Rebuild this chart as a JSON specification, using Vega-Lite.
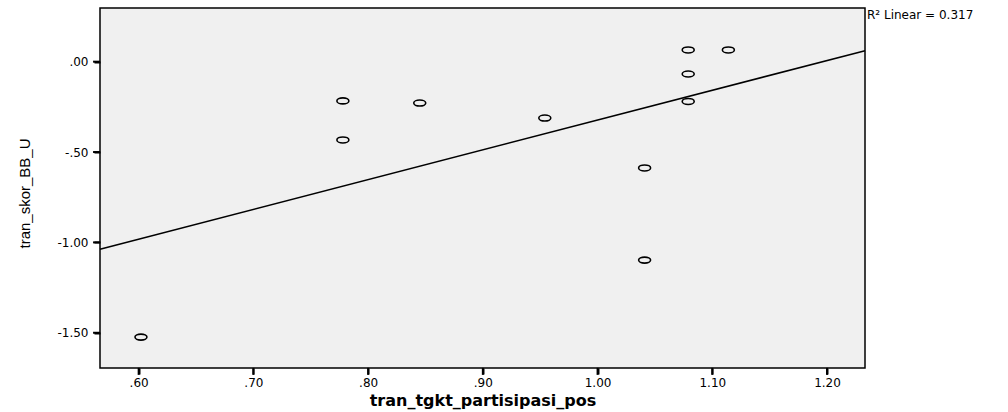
{
  "$schema": "https://vega.github.io/schema/vega-lite/v6.json",
  "width": 765,
  "height": 360,
  "autosize": "none",
  "padding": {"left": 100, "top": 8, "right": 143, "bottom": 44},
  "background": "white",
  "config": {
    "view": {"fill": "#f0f0f0", "stroke": "black", "strokeWidth": 1.5},
    "axis": {
      "grid": false, "domain": false, "ticks": true, "tickColor": "black", "tickWidth": 2, "tickSize": 6, "tickOpacity": 1,
      "labelFont": "DejaVu Sans", "labelFontSize": 12, "labelColor": "black",
      "titleColor": "black"
    }
  },
  "datasets": {
    "points": [
      {"x": 0.602, "y": -1.524},
      {"x": 0.778, "y": -0.217},
      {"x": 0.778, "y": -0.433},
      {"x": 0.845, "y": -0.229},
      {"x": 0.954, "y": -0.312},
      {"x": 1.041, "y": -0.588},
      {"x": 1.041, "y": -1.098},
      {"x": 1.079, "y": 0.065},
      {"x": 1.079, "y": -0.068},
      {"x": 1.079, "y": -0.220},
      {"x": 1.114, "y": 0.065}
    ],
    "xticks": [{"t": 0.6}, {"t": 0.7}, {"t": 0.8}, {"t": 0.9}, {"t": 1.0}, {"t": 1.1}, {"t": 1.2}],
    "yticks": [{"v": -1.5}, {"v": -1.0}, {"v": -0.5}, {"v": 0.0}]
  },
  "data": {"name": "points"},
  "layer": [
    {
      "data": {"name": "xticks"},
      "mark": {"type": "tick", "color": "black", "orient": "vertical", "thickness": 2, "size": 7, "clip": false, "opacity": 1},
      "encoding": {
        "x": {"field": "t", "type": "quantitative"},
        "y": {"datum": -1.7136}
      }
    },
    {
      "data": {"name": "yticks"},
      "mark": {"type": "tick", "color": "black", "orient": "horizontal", "thickness": 2, "size": 7, "clip": false, "opacity": 1},
      "encoding": {
        "y": {"field": "v", "type": "quantitative"},
        "x": {"datum": 0.5633}
      }
    },
    {
      "mark": {"type": "point", "shape": "M -1 0 A 1 0.5 0 1 0 1 0 A 1 0.5 0 1 0 -1 0 Z", "filled": false, "stroke": "black", "strokeWidth": 1.6, "size": 144, "opacity": 1},
      "encoding": {
        "x": {"field": "x", "type": "quantitative",
          "scale": {"domain": [0.5663, 1.2331], "nice": false, "zero": false},
          "axis": {"values": [0.6, 0.7, 0.8, 0.9, 1.0, 1.1, 1.2], "labelPadding": 3,
            "labelExpr": "(datum.value < 0 ? '-' : '') + replace(format(abs(datum.value), '.2f'), regexp('^0'), '')",
            "title": "tran_tgkt_partisipasi_pos", "titleFont": "DejaVu Sans", "titleFontWeight": "bold", "titleFontSize": 16,
            "titleX": 382.5, "titleY": 32, "titleBaseline": "middle", "titleAlign": "center"}},
        "y": {"field": "y", "type": "quantitative",
          "scale": {"domain": [-1.695, 0.297], "nice": false, "zero": false},
          "axis": {"values": [-1.5, -1.0, -0.5, 0.0], "labelPadding": 6,
            "labelExpr": "(datum.value < 0 ? '-' : '') + replace(format(abs(datum.value), '.2f'), regexp('^0'), '')",
            "title": "tran_skor_BB_U", "titleFont": "Liberation Sans", "titleFontWeight": "normal", "titleFontSize": 15,
            "titleAngle": -90, "titleX": -76, "titleY": 185, "titleBaseline": "middle", "titleAlign": "center"}}
      }
    },
    {
      "transform": [{"regression": "y", "on": "x", "extent": [0.5663, 1.2331]}],
      "mark": {"type": "line", "color": "black", "strokeWidth": 1.5},
      "encoding": {
        "x": {"field": "x", "type": "quantitative"},
        "y": {"field": "y", "type": "quantitative"}
      }
    },
    {
      "data": {"values": [{"lx": 1.2331, "ly": 0.256, "label": "R² Linear = 0.317"}]},
      "mark": {"type": "text", "align": "left", "baseline": "middle", "dx": 2, "font": "DejaVu Sans", "fontSize": 12, "color": "black"},
      "encoding": {
        "x": {"field": "lx", "type": "quantitative"},
        "y": {"field": "ly", "type": "quantitative"},
        "text": {"field": "label"}
      }
    }
  ]
}
